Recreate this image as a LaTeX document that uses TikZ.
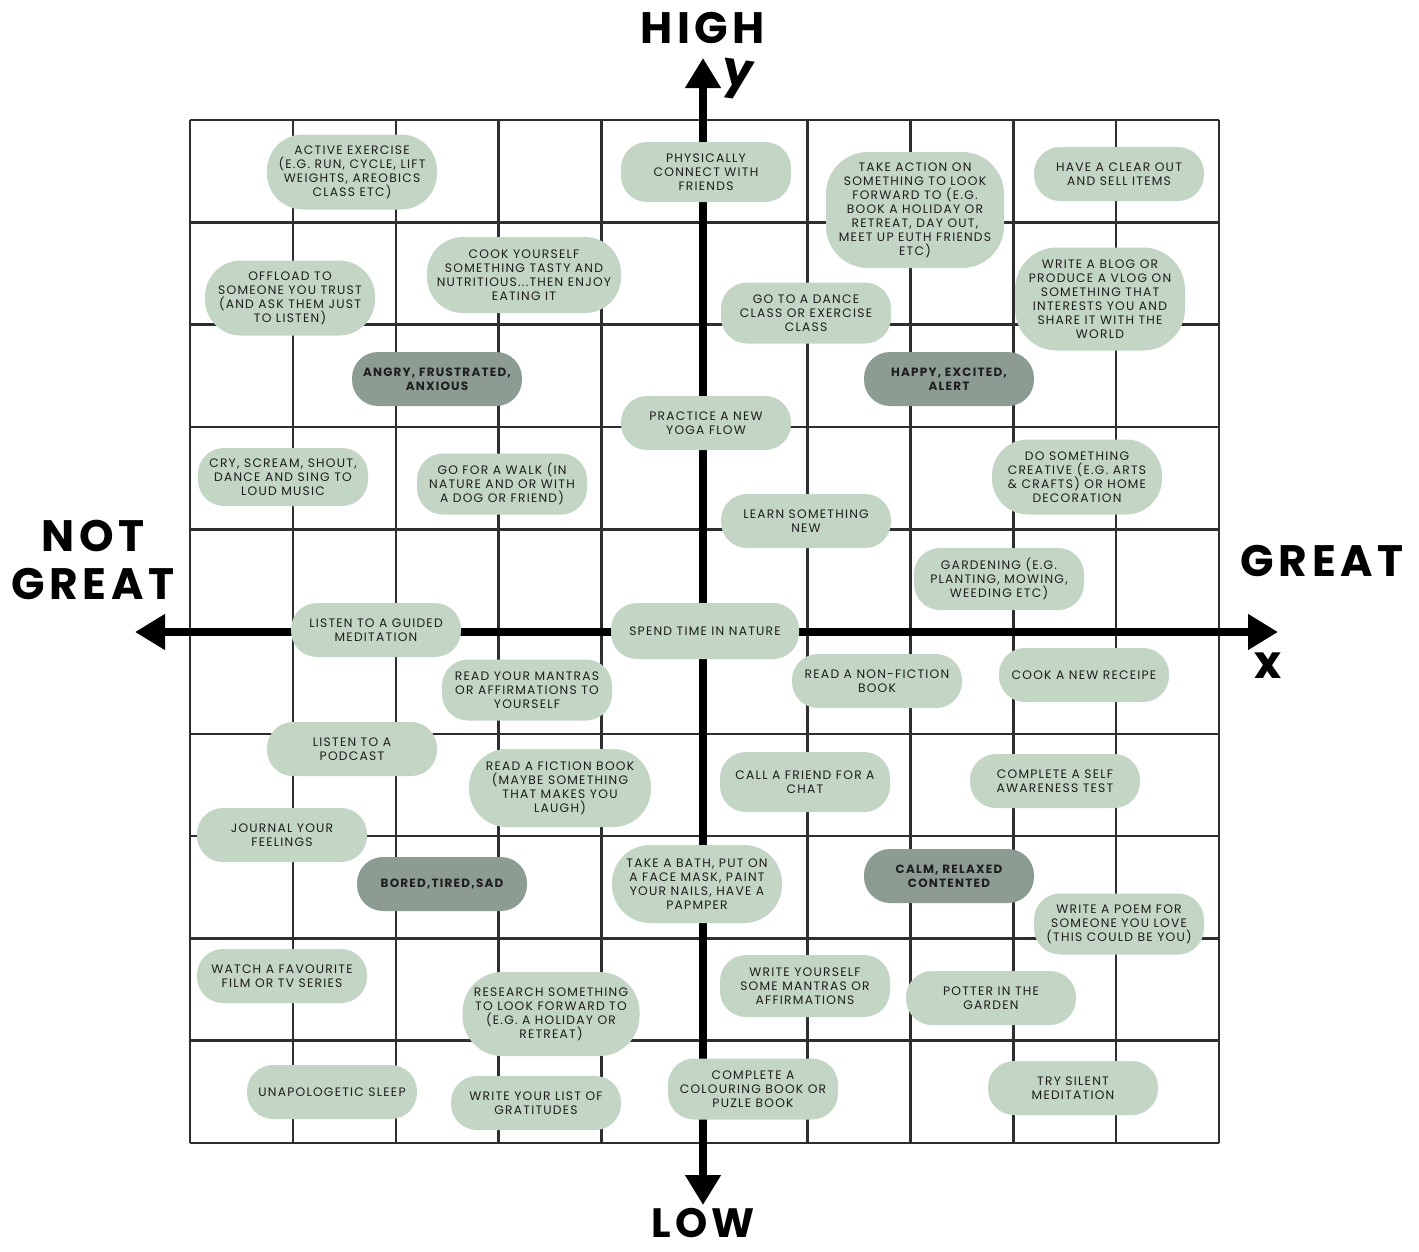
\documentclass[tikz,border=0pt]{standalone}
\usepackage{fontspec}
\usepackage{tikz}
\usetikzlibrary{arrows.meta}
\setmainfont{Poppins}
\newfontfamily\pillfont{Poppins}[LetterSpace=10]
\newfontfamily\headfont{Poppins}[LetterSpace=10]
\definecolor{sage}{HTML}{C3D5C4}
\definecolor{darksage}{HTML}{8D9C92}
\definecolor{inkgrey}{HTML}{1E1E1E}
\definecolor{gridgrey}{HTML}{2E2E2E}

\begin{document}
\begin{tikzpicture}[x=1pt, y=-1pt,
  pill/.style={fill=sage, rounded corners=26pt, inner sep=0pt, align=center, text=inkgrey,
    font=\pillfont\fontsize{12.3}{14}\selectfont, minimum width=170pt, minimum height=54pt},
  mood/.style={pill, fill=darksage, font=\pillfont\bfseries\fontsize{12}{14}\selectfont},
  gridline/.style={gridgrey, line width=2.6pt},
  axis/.style={line width=8pt, {Triangle[length=30pt,width=34pt]}-{Triangle[length=30pt,width=34pt]}},
  heading/.style={font=\headfont\bfseries\fontsize{44}{48}\selectfont, align=center, inner sep=0pt}]
\fill[white] (0,0) rectangle (1419,1251);
\useasboundingbox (0,0) rectangle (1419,1251);

% grid 10 x 10
\foreach \i in {0,...,10} {
    \draw[gridline] (190+\i*102.9,120) -- (190+\i*102.9,1143);
    \draw[gridline] (190,120+\i*102.3) -- (1219,120+\i*102.3);
}

% axes
\coordinate (ytop) at (703,58);
\coordinate (ybot) at (703,1205);
\coordinate (xleft) at (135,632);
\coordinate (xright) at (1278,632);
\draw[axis] (ybot) -- (ytop);
\draw[axis] (xleft) -- (xright);

\node[heading] (high) at (703,28) {HIGH};
\node[heading, font=\headfont\bfseries\fontsize{41}{44}\selectfont] (low) at (703,1223) {LOW};
\node[heading] (great) at (1322,561) {GREAT};
\node[heading] (notgreat) at (93,560) {NOT\\GREAT};
\node[font=\bfseries\fontsize{48}{48}\selectfont, rotate=-8] (ylab) at (737,80) {y};
\node[font=\bfseries\fontsize{46}{46}\selectfont] (xlab) at (1268,666) {x};

% top rows
\node[pill, minimum height=75pt, rounded corners=36pt] (exercise) at (352,172) {ACTIVE EXERCISE\\(E.G. RUN, CYCLE, LIFT\\WEIGHTS, AREOBICS\\CLASS ETC)};
\node[pill, minimum height=60pt] (connect) at (706,172) {PHYSICALLY\\CONNECT WITH\\FRIENDS};
\node[pill, minimum width=178pt, minimum height=116pt, rounded corners=42pt] (action) at (915,210) {TAKE ACTION ON\\SOMETHING TO LOOK\\FORWARD TO (E.G.\\BOOK A HOLIDAY OR\\RETREAT, DAY OUT,\\MEET UP EUTH FRIENDS\\ETC)};
\node[pill] (clearout) at (1119,174) {HAVE A CLEAR OUT\\AND SELL ITEMS};
\node[pill, minimum height=75pt, rounded corners=36pt] (offload) at (290,298) {OFFLOAD TO\\SOMEONE YOU TRUST\\(AND ASK THEM JUST\\TO LISTEN)};
\node[pill, minimum width=194pt, minimum height=76pt, rounded corners=36pt] (cook) at (524,275) {COOK YOURSELF\\SOMETHING TASTY AND\\NUTRITIOUS...THEN ENJOY\\EATING IT};
\node[pill, minimum height=61pt] (dance) at (806,313) {GO TO A DANCE\\CLASS OR EXERCISE\\CLASS};
\node[pill, minimum height=103pt, rounded corners=42pt] (blog) at (1100,299) {WRITE A BLOG OR\\PRODUCE A VLOG ON\\SOMETHING THAT\\INTERESTS YOU AND\\SHARE IT WITH THE\\WORLD};

% moods
\node[mood] (angry) at (437,379) {ANGRY, FRUSTRATED,\\ANXIOUS};
\node[mood] (happy) at (949,379) {HAPPY, EXCITED,\\ALERT};
\node[mood] (bored) at (442,884) {BORED,TIRED,SAD};
\node[mood] (calm) at (949,876) {CALM, RELAXED\\CONTENTED};

% middle rows
\node[pill] (yoga) at (706,423) {PRACTICE A NEW\\YOGA FLOW};
\node[pill, minimum height=58pt] (scream) at (283,477) {CRY, SCREAM, SHOUT,\\DANCE AND SING TO\\LOUD MUSIC};
\node[pill, minimum height=61pt] (walk) at (502,484) {GO FOR A WALK (IN\\NATURE AND OR WITH\\A DOG OR FRIEND)};
\node[pill, minimum height=75pt, rounded corners=36pt] (creative) at (1077,477) {DO SOMETHING\\CREATIVE (E.G. ARTS\\\& CRAFTS) OR HOME\\DECORATION};
\node[pill] (learn) at (806,521) {LEARN SOMETHING\\NEW};
\node[pill, minimum height=62pt] (gardening) at (999,579) {GARDENING (E.G.\\PLANTING, MOWING,\\WEEDING ETC)};
\node[pill] (guided) at (376,630) {LISTEN TO A GUIDED\\MEDITATION};
\node[pill, minimum width=188pt, minimum height=56pt] (nature) at (705,631) {SPEND TIME IN NATURE};
\node[pill, minimum height=61pt] (mantras) at (527,690) {READ YOUR MANTRAS\\OR AFFIRMATIONS TO\\YOURSELF};
\node[pill] (nonfiction) at (877,681) {READ A NON-FICTION\\BOOK};
\node[pill] (receipe) at (1084,675) {COOK A NEW RECEIPE};
\node[pill] (podcast) at (352,749) {LISTEN TO A\\PODCAST};
\node[pill, minimum width=182pt, minimum height=78pt, rounded corners=38pt] (fiction) at (560,788) {READ A FICTION BOOK\\(MAYBE SOMETHING\\THAT MAKES YOU\\LAUGH)};
\node[pill, minimum height=60pt] (callfriend) at (805,782) {CALL A FRIEND FOR A\\CHAT};
\node[pill] (selftest) at (1055,781) {COMPLETE A SELF\\AWARENESS TEST};
\node[pill] (journal) at (282,835) {JOURNAL YOUR\\FEELINGS};

% bottom rows
\node[pill, minimum height=78pt, rounded corners=38pt] (bath) at (697,884) {TAKE A BATH, PUT ON\\A FACE MASK, PAINT\\YOUR NAILS, HAVE A\\PAPMPER};
\node[pill, minimum height=61pt] (poem) at (1119,924) {WRITE A POEM FOR\\SOMEONE YOU LOVE\\(THIS COULD BE YOU)};
\node[pill] (film) at (282,976) {WATCH A FAVOURITE\\FILM OR TV SERIES};
\node[pill, minimum width=177pt, minimum height=84pt, rounded corners=40pt] (research) at (551,1014) {RESEARCH SOMETHING\\TO LOOK FORWARD TO\\(E.G. A HOLIDAY OR\\RETREAT)};
\node[pill, minimum height=62pt] (writemantras) at (805,986) {WRITE YOURSELF\\SOME MANTRAS OR\\AFFIRMATIONS};
\node[pill] (potter) at (991,998) {POTTER IN THE\\GARDEN};
\node[pill] (sleep) at (332,1092) {UNAPOLOGETIC SLEEP};
\node[pill] (gratitudes) at (536,1103) {WRITE YOUR LIST OF\\GRATITUDES};
\node[pill, minimum height=61pt] (colouring) at (753,1089) {COMPLETE A\\COLOURING BOOK OR\\PUZLE BOOK};
\node[pill] (silent) at (1073,1088) {TRY SILENT\\MEDITATION};
\end{tikzpicture}
\end{document}
